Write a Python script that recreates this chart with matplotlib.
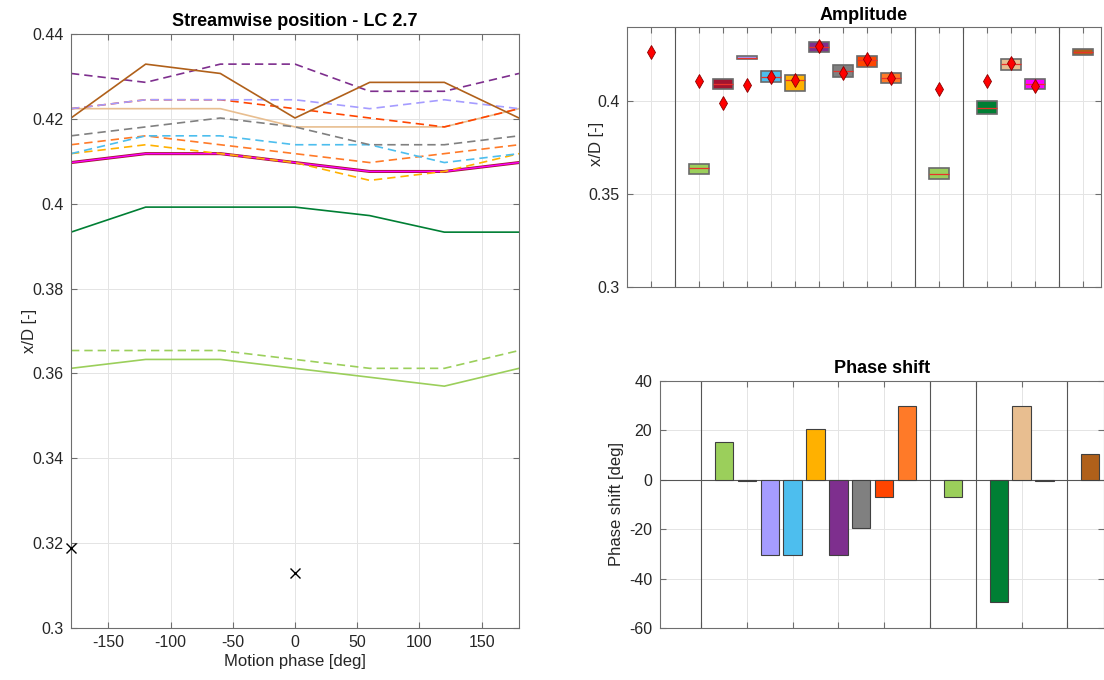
import matplotlib
matplotlib.use("Agg")
import matplotlib.pyplot as plt
import numpy as np

plt.rcParams['font.family'] = ['Liberation Sans', 'DejaVu Sans']
plt.rcParams['axes.unicode_minus'] = False

# ---------------- data ----------------
phase = [-180, -120, -60, 0, 60, 120, 180]

# left panel lines: (color, linestyle, values)
line_colors = ["#9BCF5B", "#A2142F", "#A59CFF", "#4DBEEE", "#FFB100", "#7E2F8E",
               "#808080", "#FF4500", "#FF7A28", "#9BCF5B", "#007F34", "#E8BE90",
               "#FF00FF", "#B0601A"]
line_styles = ["--", "-", "--", "--", "--", "--", "--", "--", "--",
               "-", "-", "-", "-", "-"]
line_widths = [1.2, 2.2, 1.2, 1.2, 1.2, 1.2, 1.2, 1.2, 1.2, 1.2, 1.2, 1.2, 1.0, 1.2]
line_values = [
    [0.3654, 0.3654, 0.3654, 0.3633, 0.3612, 0.3612, 0.3654],  # light green dashed
    [0.4097, 0.4118, 0.4118, 0.4097, 0.4076, 0.4076, 0.4097],  # crimson
    [0.4224, 0.4245, 0.4245, 0.4245, 0.4224, 0.4245, 0.4224],  # lavender
    [0.4118, 0.4160, 0.4160, 0.4139, 0.4139, 0.4097, 0.4118],  # cyan
    [0.4118, 0.4139, 0.4118, 0.4097, 0.4055, 0.4076, 0.4118],  # amber
    [0.4307, 0.4286, 0.4329, 0.4329, 0.4265, 0.4265, 0.4307],  # purple
    [0.4160, 0.4181, 0.4202, 0.4181, 0.4139, 0.4139, 0.4160],  # gray
    [0.4224, 0.4245, 0.4245, 0.4224, 0.4202, 0.4181, 0.4224],  # red-orange
    [0.4139, 0.4160, 0.4139, 0.4118, 0.4097, 0.4118, 0.4139],  # orange
    [0.3612, 0.3633, 0.3633, 0.3612, 0.3591, 0.3570, 0.3612],  # light green solid
    [0.3933, 0.3992, 0.3992, 0.3992, 0.3972, 0.3933, 0.3933],  # dark green
    [0.4224, 0.4224, 0.4224, 0.4181, 0.4181, 0.4181, 0.4224],  # tan
    [0.4097, 0.4118, 0.4118, 0.4097, 0.4076, 0.4076, 0.4097],  # magenta
    [0.4202, 0.4329, 0.4307, 0.4202, 0.4286, 0.4286, 0.4202],  # brown
]
draw_order = [10, 9, 0, 11, 1, 12, 4, 8, 3, 6, 7, 2, 5, 13]

cross_x = [-180, 0]
cross_y = [0.3188, 0.3129]

# amplitude / phase panels
positions = [3, 4, 5, 6, 7, 8, 9, 10, 11, 13, 15, 16, 17, 19]
bar_colors = ["#9BCF5B", "#A2142F", "#A59CFF", "#4DBEEE", "#FFB100", "#7E2F8E",
              "#808080", "#FF4500", "#FF7A28", "#9BCF5B", "#007F34", "#E8BE90",
              "#FF00FF", "#B0601A"]
box_low = [0.3611, 0.4068, 0.4227, 0.4104, 0.4057, 0.4264, 0.4130, 0.4186, 0.4096,
           0.3579, 0.3929, 0.4170, 0.4068, 0.4248]
box_high = [0.3664, 0.4118, 0.4243, 0.4161, 0.4139, 0.4321, 0.4196, 0.4246, 0.4154,
            0.3641, 0.4004, 0.4227, 0.4118, 0.4284]
box_median = [0.3639, 0.4093, 0.4235, 0.4132, 0.4112, 0.4292, 0.4163, 0.4224, 0.4125,
              0.3610, 0.3966, 0.4200, 0.4093, 0.4266]

diamond_pos = [1, 3, 4, 5, 6, 7, 8, 9, 10, 11, 13, 15, 16, 17]
diamond_val = [0.4264, 0.4111, 0.3989, 0.4089, 0.4129, 0.4114, 0.4298, 0.4154,
               0.4229, 0.4125, 0.4068, 0.4111, 0.4207, 0.4084]

phase_shift = [15.5, -0.5, -30.5, -30.5, 20.5, -30.5, -19.5, -7.0, 29.8,
               -7.0, -49.5, 29.8, -0.5, 10.3]

separators = [2, 12, 14, 18]

# ---------------- figure ----------------
W, H = 1104, 680
fig = plt.figure(figsize=(W / 100, H / 100), dpi=100)

def px_axes(l, r, t, b):
    return fig.add_axes([l / W, (H - b) / H, (r - l) / W, (b - t) / H])

spine_c = "#6E6E6E"
grid_c = "#E4E4E4"
sep_c = "#555555"
tick_fs = 11.5
lab_fs = 12
title_fs = 13

def style(ax):
    for s in ax.spines.values():
        s.set_color(spine_c)
        s.set_linewidth(0.8)
    ax.tick_params(direction="in", top=True, right=True, colors=spine_c,
                   labelcolor="#262626", labelsize=tick_fs, length=4, width=0.8)
    ax.tick_params(axis="x", pad=5)
    ax.tick_params(axis="y", pad=5.5)
    ax.grid(True, color=grid_c, linewidth=0.7)
    ax.set_axisbelow(True)

# left panel
ax1 = px_axes(71, 519, 34, 628)
style(ax1)
for i in draw_order:
    ax1.plot(phase, line_values[i], color=line_colors[i], linestyle=line_styles[i],
             linewidth=line_widths[i], dashes=(5, 3) if line_styles[i] == "--" else (None, None))
ax1.plot(cross_x, cross_y, linestyle="none", marker="x", color="black",
         markersize=7, markeredgewidth=1.0, clip_on=False, zorder=5)
ax1.set_xlim(-180, 180)
ax1.set_ylim(0.3, 0.44)
ax1.set_xticks([-150, -100, -50, 0, 50, 100, 150])
yt = np.round(np.arange(0.30, 0.4401, 0.02), 2)
ax1.set_yticks(yt)
ax1.set_yticklabels([("%g" % v) for v in yt])
ax1.set_xlabel("Motion phase [deg]", fontsize=lab_fs, color="#262626", labelpad=3)
ax1.set_ylabel("x/D [-]", fontsize=lab_fs, color="#262626")
ax1.yaxis.set_label_coords(-0.076, 0.5)
ax1.set_title("Streamwise position - LC 2.7", fontsize=title_fs, fontweight="bold", pad=6)

# amplitude panel
ax2 = px_axes(627, 1101, 27, 287)
style(ax2)
for s in separators:
    ax2.axvline(s, color=sep_c, linewidth=0.8, zorder=1)
ax2.bar(positions, np.array(box_high) - np.array(box_low), bottom=box_low, width=0.8,
        color=bar_colors, edgecolor="#6A6A6A", linewidth=1.2, zorder=2)
ax2.hlines(box_median, np.array(positions) - 0.4, np.array(positions) + 0.4,
           colors="#E8322A", linewidth=0.9, zorder=3)
ax2.plot(diamond_pos, diamond_val, linestyle="none", marker="d", color="#FF0000",
         markeredgecolor="#8B0000", markeredgewidth=0.6, markersize=7, zorder=4)
ax2.set_xlim(0, 19.75)
ax2.set_ylim(0.3, 0.44)
ax2.set_xticks(range(1, 20))
ax2.set_xticklabels([])
ax2.set_yticks([0.3, 0.35, 0.4])
ax2.set_yticklabels(["0.3", "0.35", "0.4"])
ax2.set_ylabel("x/D [-]", fontsize=lab_fs, color="#262626")
ax2.yaxis.set_label_coords(-0.0485, 0.55)
ax2.set_title("Amplitude", fontsize=title_fs, fontweight="bold", pad=5)

# phase panel
ax3 = px_axes(660, 1104, 381, 628)
style(ax3)
for s in separators:
    ax3.axvline(s, color=sep_c, linewidth=0.8, zorder=1)
ax3.axhline(0, color=sep_c, linewidth=0.8, zorder=1)
ax3.bar(positions, phase_shift, width=0.8, color=bar_colors, edgecolor="#404040",
        linewidth=0.8, zorder=2)
ax3.set_xlim(0.21, 19.6)
ax3.set_ylim(-60, 40)
ax3.set_xticks(range(2, 19, 2))
ax3.set_xticklabels([])
ax3.set_yticks([-60, -40, -20, 0, 20, 40])
ax3.set_ylabel("Phase shift [deg]", fontsize=lab_fs, color="#262626")
ax3.yaxis.set_label_coords(-0.081, 0.5)
ax3.set_title("Phase shift", fontsize=title_fs, fontweight="bold", pad=6)

fig.savefig("out.png", dpi=100)
